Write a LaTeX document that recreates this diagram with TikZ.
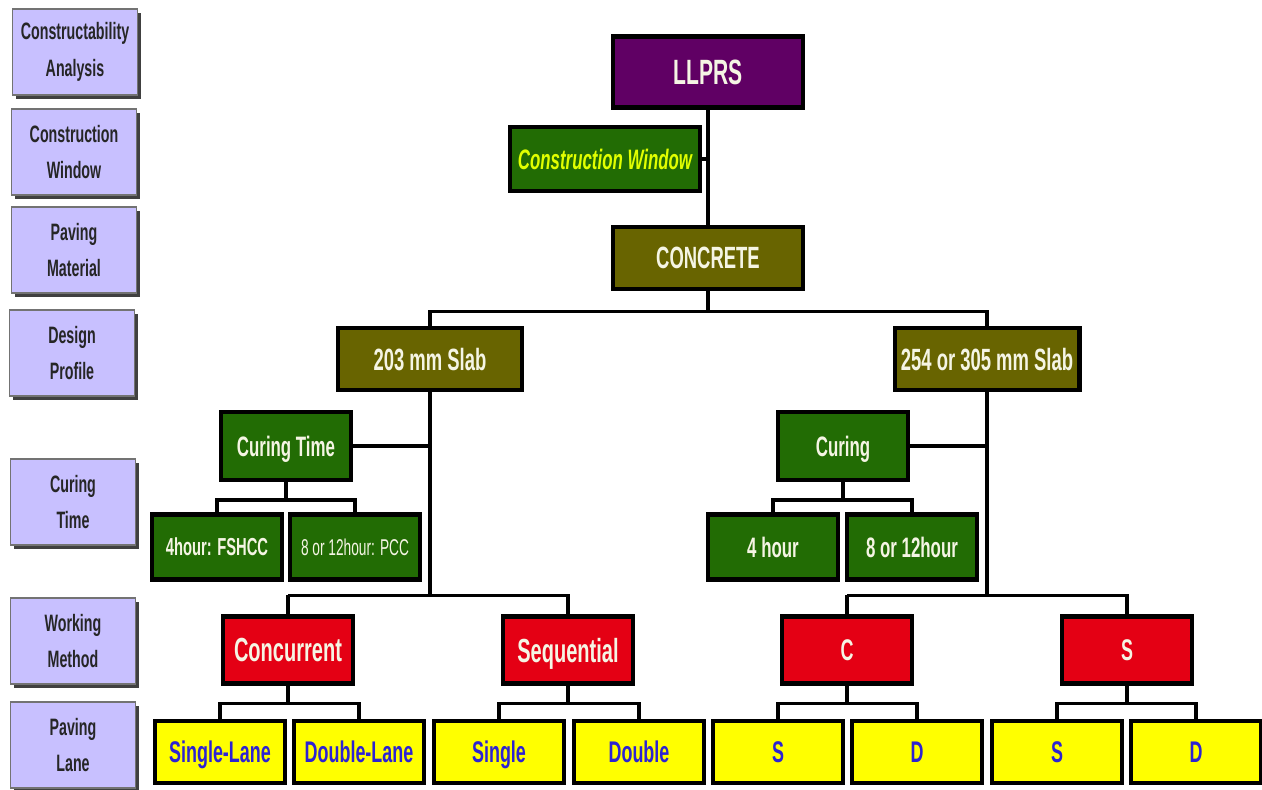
\documentclass[tikz,border=0pt]{standalone}
\usepackage{fontspec}
\setmainfont{Liberation Sans}[FakeStretch=0.6]
\usetikzlibrary{shadows}

\definecolor{lav}{RGB}{200,192,255}
\definecolor{plum}{RGB}{96,0,100}
\definecolor{leaf}{RGB}{34,108,4}
\definecolor{mud}{RGB}{104,100,0}
\definecolor{alarm}{RGB}{228,0,20}
\definecolor{lemon}{RGB}{255,255,0}
\definecolor{ink}{RGB}{45,35,210}
\definecolor{cream}{RGB}{245,245,228}
\definecolor{lime}{RGB}{225,255,0}

\tikzset{
  lab/.style={draw=black!55, line width=0.6pt, fill=lav, text=black!85, inner sep=0pt,
    minimum width=2.5cm, minimum height=1.72cm, align=center,
    font=\fontsize{13.5}{21}\selectfont\bfseries,
    drop shadow={shadow xshift=2.2pt, shadow yshift=-2.2pt, fill=black!75, opacity=1}},
  box/.style={draw=black, line width=2.3pt, inner sep=0pt, text depth=0pt},
  root/.style={box, fill=plum, text=cream, minimum width=3.8cm, minimum height=1.42cm,
    font=\fontsize{20}{24}\selectfont\bfseries},
  window/.style={box, fill=leaf, text=lime, minimum width=3.8cm, minimum height=1.28cm,
    font=\fontsize{16}{20}\selectfont\bfseries\itshape},
  mat/.style={box, fill=mud, text=cream, minimum height=1.25cm,
    font=\fontsize{17.5}{21}\selectfont\bfseries},
  cure/.style={box, fill=leaf, text=cream, minimum width=2.61cm, minimum height=1.36cm,
    font=\fontsize{16}{20}\selectfont\bfseries},
  hours/.style={box, fill=leaf, text=cream, minimum width=2.6cm, minimum height=1.3cm,
    font=\fontsize{16}{20}\selectfont\bfseries},
  method/.style={box, fill=alarm, text=cream, minimum width=2.6cm, minimum height=1.34cm,
    font=\fontsize{19}{23}\selectfont\bfseries},
  lane/.style={box, fill=lemon, text=ink, minimum width=2.6cm, minimum height=1.24cm,
    font=\fontsize{17}{21}\selectfont\bfseries},
  wire/.style={line width=2pt},
}

\begin{document}
\begin{tikzpicture}[x=0.02cm, y=-0.02cm]
    \useasboundingbox (0,0) rectangle (1262,790);

    % stage labels on the left
    \node[lab] (stage1) at (75,52) {Constructability\\Analysis};
    \node[lab] (stage2) at (74,152) {Construction\\Window};
    \node[lab] (stage3) at (74,250) {Paving\\Material};
    \node[lab] (stage4) at (72,353) {Design\\Profile};
    \node[lab] (stage5) at (73,502) {Curing\\Time};
    \node[lab] (stage6) at (73,641) {Working\\Method};
    \node[lab] (stage7) at (73,745) {Paving\\Lane};

    % tree
    \node[root] (llprs) at (708,72) {LLPRS};
    \node[window] (cwin) at (605,159) {Construction Window};
    \node[mat, minimum width=3.8cm] (concrete) at (708,258) {CONCRETE};
    \node[mat, minimum width=3.68cm] (slabA) at (430,359) {203 mm Slab};
    \node[mat, minimum width=3.7cm] (slabB) at (987,359) {254 or 305 mm Slab};

    \node[cure] (cureA) at (286,446) {Curing Time};
    \node[cure] (cureB) at (843,446) {Curing};
    \node[hours, font=\fontsize{14}{18}\selectfont\bfseries] (hA1) at (217,547) {4hour: FSHCC};
    \node[hours, font=\fontsize{13}{18}\selectfont] (hA2) at (355,547) {8 or 12hour: PCC};
    \node[hours] (hB1) at (773,547) {4 hour};
    \node[hours] (hB2) at (912,547) {8 or 12hour};

    \node[method] (conc) at (288,650) {Concurrent};
    \node[method] (seq) at (568,650) {Sequential};
    \node[method, font=\fontsize{17}{21}\selectfont\bfseries] (cB) at (847,650) {C};
    \node[method, font=\fontsize{17}{21}\selectfont\bfseries] (sB) at (1127,650) {S};

    \node[lane] (laneA1) at (220,752) {Single-Lane};
    \node[lane] (laneA2) at (359,752) {Double-Lane};
    \node[lane] (laneA3) at (499,752) {Single};
    \node[lane] (laneA4) at (639,752) {Double};
    \node[lane] (laneB1) at (778,752) {S};
    \node[lane] (laneB2) at (917,752) {D};
    \node[lane] (laneB3) at (1057,752) {S};
    \node[lane] (laneB4) at (1196,752) {D};

    % connectors
    \draw[wire] (llprs) -- (concrete);
    \draw[wire] (cwin.east) -- (cwin.east -| llprs.south);
    \draw[wire] (concrete.south) -- ++(0,20) coordinate (split1);
    \draw[wire] (slabA.north) |- (split1) -| (slabB.north);

    \draw[wire] (cureA.east) -- (cureA.east -| slabA.south);
    \draw[wire] (conc.north) -- ++(0,-19) coordinate (split2);
    \draw[wire] (slabA.south) -- (slabA.south |- split2);
    \draw[wire] (split2) -| (seq.north);
    \draw[wire] (cureA.south) -- ++(0,18) coordinate (split3);
    \draw[wire] (hA1.north) |- (split3) -| (hA2.north);
    \draw[wire] (conc.south) -- ++(0,18) coordinate (split4);
    \draw[wire] (laneA1.north) |- (split4) -| (laneA2.north);
    \draw[wire] (seq.south) -- ++(0,18) coordinate (split5);
    \draw[wire] (laneA3.north) |- (split5) -| (laneA4.north);

    \draw[wire] (cureB.east) -- (cureB.east -| slabB.south);
    \draw[wire] (cB.north) -- ++(0,-19) coordinate (split6);
    \draw[wire] (slabB.south) -- (slabB.south |- split6);
    \draw[wire] (split6) -| (sB.north);
    \draw[wire] (cureB.south) -- ++(0,18) coordinate (split7);
    \draw[wire] (hB1.north) |- (split7) -| (hB2.north);
    \draw[wire] (cB.south) -- ++(0,18) coordinate (split8);
    \draw[wire] (laneB1.north) |- (split8) -| (laneB2.north);
    \draw[wire] (sB.south) -- ++(0,18) coordinate (split9);
    \draw[wire] (laneB3.north) |- (split9) -| (laneB4.north);
\end{tikzpicture}
\end{document}
